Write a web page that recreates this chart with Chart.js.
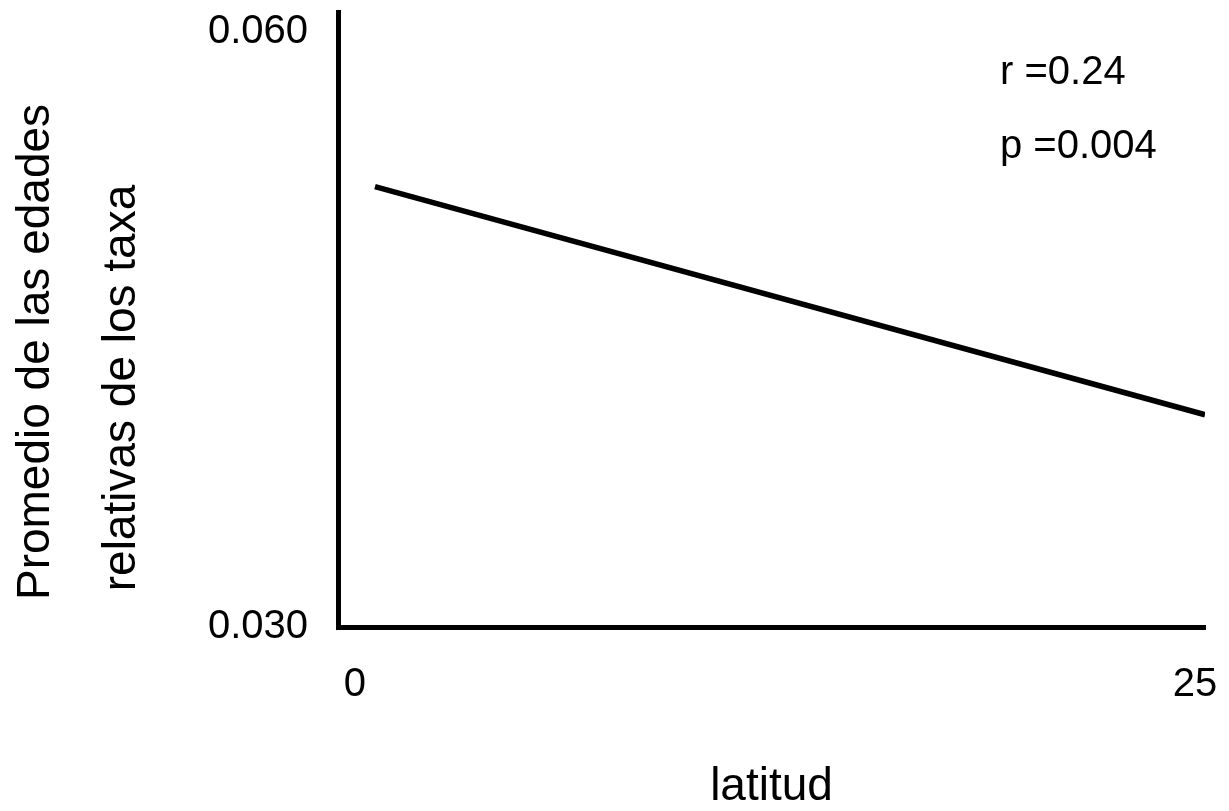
<!DOCTYPE html>
<html lang="es">
<head>
    <meta charset="UTF-8">
    <title>Edades relativas vs latitud</title>
    <script src="https://cdn.jsdelivr.net/npm/chart.js"></script>
    <style>
        body { margin: 0; background: #fff; }
        #wrap { width: 1229px; height: 811px; }
    </style>
</head>
<body>
    <div id="wrap"><canvas id="latChart"></canvas></div>

    <script>
        // datos
        const latitud = [0.6, 25.3];
        const edadRelativa = [0.0522, 0.0407];
        const xTicks = [0, 25];
        const yTicks = [0.030, 0.060];
        const yTitulo = ['Promedio de las edades', 'relativas de los taxa'];
        const estadisticos = ['r =0.24', 'p =0.004'];

        const fuente = '"Liberation Sans", Arial, sans-serif';

        // titulo del eje y y texto r / p
        const textos = {
            id: 'textos',
            afterDraw(chart) {
                const ctx = chart.ctx;
                ctx.save();
                ctx.fillStyle = '#000';
                ctx.font = '40px ' + fuente;
                ctx.textAlign = 'left';
                ctx.textBaseline = 'middle';
                ctx.fillText(estadisticos[0], 1000, 73);
                ctx.fillText(estadisticos[1], 1000, 147);

                ctx.font = '46px ' + fuente;
                ctx.textAlign = 'center';
                const lineas = [[36, 352], [122, 388]];
                yTitulo.forEach((t, i) => {
                    ctx.save();
                    ctx.translate(lineas[i][0], lineas[i][1]);
                    ctx.rotate(-Math.PI / 2);
                    ctx.fillText(t, 0, 0);
                    ctx.restore();
                });
                ctx.restore();
            }
        };

        new Chart(document.getElementById('latChart'), {
            type: 'scatter',
            data: {
                datasets: [{
                    data: latitud.map((x, i) => ({ x: x, y: edadRelativa[i] })),
                    showLine: true,
                    borderColor: '#000',
                    borderWidth: 5.5,
                    pointRadius: 0
                }]
            },
            options: {
                responsive: true,
                maintainAspectRatio: false,
                animation: false,
                layout: { padding: { left: 0, right: 24, top: 12, bottom: 0 } },
                plugins: {
                    legend: { display: false },
                    tooltip: { enabled: false }
                },
                scales: {
                    x: {
                        type: 'linear',
                        min: -0.5,
                        max: 25.3,
                        afterBuildTicks: s => { s.ticks = xTicks.map(v => ({ value: v })); },
                        afterFit: s => { s.height = 184; s.paddingLeft = 0; s.paddingRight = 0; },
                        grid: { display: false, drawTicks: false },
                        border: { display: true, color: '#000', width: 5 },
                        ticks: {
                            color: '#000',
                            padding: 34,
                            font: { family: fuente, size: 40 },
                            maxRotation: 0
                        },
                        title: {
                            display: true,
                            text: 'latitud',
                            color: '#000',
                            font: { family: fuente, size: 46 },
                            padding: { top: 0, bottom: -4 }
                        }
                    },
                    y: {
                        type: 'linear',
                        min: 0.030,
                        max: 0.061,
                        afterBuildTicks: s => { s.ticks = yTicks.map(v => ({ value: v })); },
                        afterFit: s => { s.width = 338; s.paddingTop = 0; s.paddingBottom = 0; },
                        grid: { display: false, drawTicks: false },
                        border: { display: true, color: '#000', width: 5 },
                        ticks: {
                            color: '#000',
                            padding: 30,
                            font: { family: fuente, size: 40 },
                            callback: v => v.toFixed(3)
                        }
                    }
                }
            },
            plugins: [textos]
        });
    </script>
</body>
</html>
